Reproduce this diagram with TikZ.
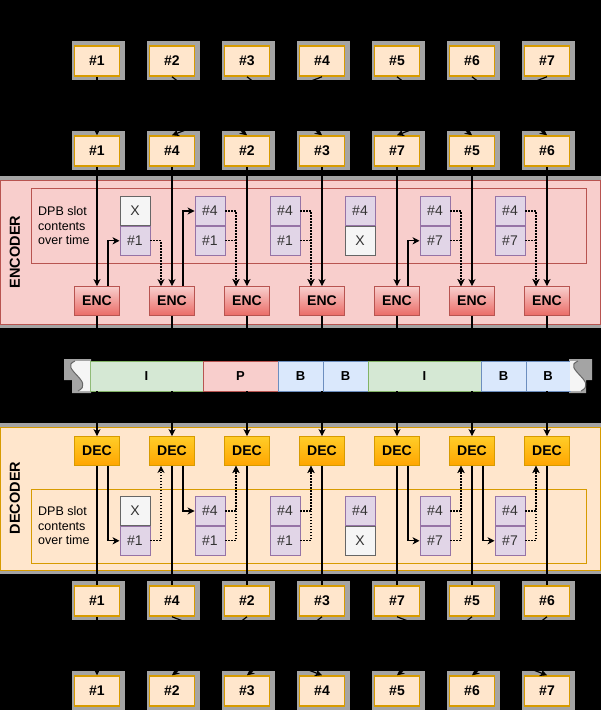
\documentclass[tikz,border=0pt]{standalone}
\usepackage{fontspec}
\setmainfont{Liberation Sans}
\usetikzlibrary{arrows.meta,backgrounds,positioning}
\definecolor{frameline}{HTML}{D79B00}
\definecolor{framefill}{HTML}{FFE6CC}
\definecolor{encline}{HTML}{B85450}
\definecolor{encfill}{HTML}{F8CECC}
\definecolor{encbot}{HTML}{EA6B66}
\definecolor{dectop}{HTML}{FFCD28}
\definecolor{decbot}{HTML}{FFA500}
\definecolor{slotline}{HTML}{9673A6}
\definecolor{slotfill}{HTML}{E1D5E7}
\definecolor{nilline}{HTML}{666666}
\definecolor{nilfill}{HTML}{F5F5F5}
\definecolor{iline}{HTML}{82B366}
\definecolor{ifill}{HTML}{D5E8D4}
\definecolor{bline}{HTML}{6C8EBF}
\definecolor{bfill}{HTML}{DAE8FC}
\definecolor{halo}{HTML}{A4A4A4}
\tikzset{
  picbox/.style = {draw=frameline, fill=framefill, line width=1.5pt,
    minimum width=45pt, minimum height=30pt, inner sep=0pt,
    font=\fontsize{14}{16}\selectfont\bfseries},% one picture
  codec/.style = {line width=0.8pt, minimum width=45pt, minimum height=29pt,
    inner sep=0pt, font=\fontsize{14}{16}\selectfont\bfseries},
  enc/.style = {codec, draw=encline, top color=encfill, bottom color=encbot},
  dec/.style = {codec, draw=frameline, top color=dectop, bottom color=decbot},
  slot/.style = {draw=slotline, fill=slotfill, line width=0.8pt,
    minimum width=30pt, minimum height=29pt, inner sep=0pt, text=black!80,
    font=\fontsize{14}{16}\selectfont},% dpb slot, filled
  nil/.style = {slot, draw=nilline, fill=nilfill},% dpb slot, empty
  seg/.style = {line width=0.8pt, minimum height=30pt, inner sep=0pt,
    outer sep=0pt, font=\fontsize{13}{14}\selectfont\bfseries},
  iseg/.style = {seg, draw=iline, fill=ifill},
  pseg/.style = {seg, draw=encline, fill=encfill},
  bseg/.style = {seg, draw=bline, fill=bfill},
  side/.style = {rotate=90, font=\fontsize{14.5}{16}\selectfont\bfseries},
  note/.style = {anchor=west, align=left, inner sep=0pt,
    font=\fontsize{12.5}{14.5}\selectfont},
  wire/.style = {line width=1.2pt, black},
  feed/.style = {wire, dash pattern=on 1.3pt off 1.7pt},
  >={Stealth[length=7pt,width=7pt,inset=2pt]}
}
\begin{document}
\begin{tikzpicture}[x=1pt,y=-1pt]
  \useasboundingbox (0,0) rectangle (601,710);
  % pictures: display order, coding order, decoded order, display order
  \foreach \n [count=\i] in {1,...,7}
    \node [picbox] (src\i) at (22+75*\i,61) {\#\n};
  \foreach \n [count=\i] in {1,4,2,3,7,5,6}
    \node [picbox] (cod\i) at (22+75*\i,151) {\#\n};
  \foreach \n [count=\i] in {1,4,2,3,7,5,6}
    \node [picbox] (out\i) at (22+75*\i,601) {\#\n};
  \foreach \n [count=\i] in {1,...,7}
    \node [picbox] (disp\i) at (22+75*\i,691) {\#\n};
  % encoder and decoder
  \foreach \i in {1,...,7}{
    \node [enc] (enc\i) at (22+75*\i,301) {ENC};
    \node [dec] (dec\i) at (22+75*\i,451) {DEC};
  }
  \node [side] (enclab) at (15,252) {ENCODER};
  \node [side] (declab) at (15,498) {DECODER};
  \node [note] (enctxt) at (38,226) {DPB slot\\contents\\over time};
  \node [note] (dectxt) at (38,526) {DPB slot\\contents\\over time};
  % dpb slots
  \foreach \p/\y in {e/211,d/511}
    \foreach \ts/\t/\bs/\b [count=\i] in {nil/X/slot/\#1, slot/\#4/slot/\#1,
        slot/\#4/slot/\#1, slot/\#4/nil/X, slot/\#4/slot/\#7, slot/\#4/slot/\#7}{
      \node [\ts] (\p st\i) at (60+75*\i,\y) {\t};
      \node [\bs, below=0pt of \p st\i] (\p sb\i) {\b};
    }
  % bitstream
  \node [iseg, minimum width=113pt, anchor=west] (seg1) at (90,376) {I};
  \node [pseg, minimum width=75pt, right=0pt of seg1] (seg2) {P};
  \node [bseg, minimum width=45pt, right=0pt of seg2] (seg3) {B};
  \node [bseg, minimum width=45pt, right=0pt of seg3] (seg4) {B};
  \node [iseg, minimum width=113pt, right=0pt of seg4] (seg5) {I};
  \node [bseg, minimum width=45pt, right=0pt of seg5] (seg6) {B};
  \node [bseg, minimum width=44pt, right=0pt of seg6] (seg7) {B};
  \fill [nilfill] (seg1.north west) -- (75,361) .. controls (58,368) and (96,382)
    .. (78,391) -- (seg1.south west) -- cycle;
  \draw [nilline, line width=1pt] (75,361) .. controls (58,368) and (96,382) .. (78,391);
  \fill [nilfill] (seg7.north east) -- (578,361) .. controls (561,368) and (599,382)
    .. (581,391) -- (seg7.south east) -- cycle;
  \draw [nilline, line width=1pt] (578,361) .. controls (561,368) and (599,382) .. (581,391);

  \begin{scope}[on background layer]
    \fill [black] (0,0) rectangle (601,710);
    \foreach \n in {src,cod,out,disp}
      \foreach \i in {1,...,7}
        \fill [halo] ([xshift=-2pt,yshift=4pt]\n\i.north west)
          rectangle ([xshift=5pt,yshift=-3pt]\n\i.south east);
    \fill [halo] (64,359) -- (91,359) -- (91,393) -- (72,393) -- (72,380)
      -- (64,380) -- cycle;
    \fill [halo] (569,359) -- (592,359) -- (592,380) -- (586,380) -- (586,393)
      -- (569,393) -- cycle;
    \fill [halo] (0,176) rectangle (601,328);
    \fill [halo] (0,423) rectangle (601,574);
    \filldraw [fill=encfill, draw=encline, line width=0.8pt] (0.5,180) rectangle (600.5,324);
    \filldraw [fill=framefill, draw=frameline, line width=0.8pt] (0.5,427) rectangle (600.5,570);
    \draw [encline, line width=0.8pt] (31,188) rectangle (586,263);
    \draw [frameline, line width=0.8pt] (31,489) rectangle (586,563);
  \end{scope}

  % reordering before coding and after decoding
  \foreach \s/\t in {1/1,2/3,3/4,4/2,5/6,6/7,7/5}
    \draw [wire,->] (src\s.south) -- (cod\t.north);
  \foreach \s/\t in {1/1,2/4,3/2,4/3,5/7,6/5,7/6}
    \draw [wire,->] (out\s.south) -- (disp\t.north);
  \foreach \i in {1,...,7}{
    \draw [wire,->] (cod\i) -- (enc\i);
    \draw [wire] (enc\i.south) -- (enc\i.south |- seg1.north);
    \draw [wire,->] (dec\i.north |- seg1.south) -- (dec\i);
    \draw [wire] (dec\i) -- (out\i);
  }
  % stored references
  \draw [wire,->] ([xshift=11pt]enc1.north) |- (esb1.west);
  \draw [wire,->] ([xshift=11pt]enc2.north) |- (est2.west);
  \draw [wire,->] ([xshift=11pt]enc5.north) |- (esb5.west);
  \draw [wire,->] ([xshift=11pt]dec1.south) |- (dsb1.west);
  \draw [wire,->] ([xshift=11pt]dec2.south) |- (dst2.west);
  \draw [wire,->] ([xshift=11pt]dec5.south) |- (dsb5.west);
  \draw [wire,->] ([xshift=11pt]dec6.south) |- (dsb6.west);
  % references used for prediction
  \foreach \s/\n in {sb1/2, st2/3, sb2/3, st3/4, sb3/4, st5/6, sb5/6, st6/7, sb6/7}{
    \draw [feed,->] (e\s.east) -| ([xshift=-11pt]enc\n.north);
    \draw [feed,->] (d\s.east) -| ([xshift=-11pt]dec\n.south);
  }
\end{tikzpicture}
\end{document}
